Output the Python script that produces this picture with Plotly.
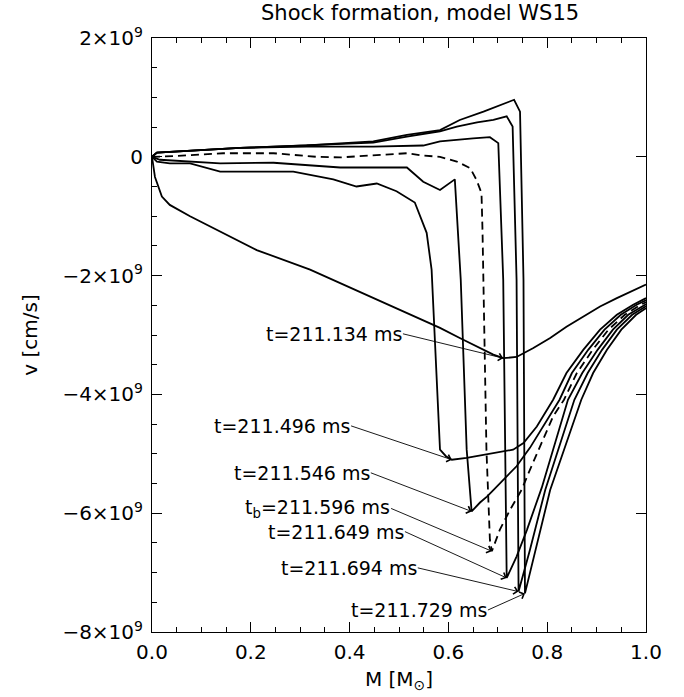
import plotly.graph_objects as go

# ---------------- data (M in solar masses, v in units of 1e9 cm/s) ----------------
M_1 = [0.0, 0.006, 0.02, 0.036, 0.077, 0.138, 0.212, 0.32, 0.45, 0.583, 0.623, 0.664, 0.691,
       0.711, 0.738, 0.772, 0.806, 0.839, 0.873, 0.907, 0.941, 0.974, 1.0]
V_1 = [0.0, -0.34, -0.67, -0.81, -1.0, -1.26, -1.57, -1.90, -2.39, -2.88, -3.05, -3.22, -3.33,
       -3.39, -3.37, -3.22, -3.05, -2.86, -2.69, -2.52, -2.38, -2.25, -2.15]

M_2 = [0.0, 0.01, 0.036, 0.077, 0.138, 0.286, 0.367, 0.414, 0.455, 0.495, 0.532, 0.556, 0.566,
       0.583, 0.595, 0.607, 0.637, 0.711, 0.731, 0.752, 0.779, 0.812, 0.839, 0.873, 0.907, 0.941,
       0.974, 1.0]
V_2 = [0.0, -0.08, -0.11, -0.11, -0.25, -0.25, -0.38, -0.50, -0.45, -0.58, -0.77, -1.28, -1.90,
       -4.93, -5.04, -5.10, -5.07, -4.96, -4.93, -4.82, -4.54, -4.09, -3.64, -3.25, -2.91, -2.66,
       -2.49, -2.38]

M_3 = [0.0, 0.016, 0.138, 0.246, 0.381, 0.516, 0.549, 0.583, 0.613, 0.625, 0.637, 0.647, 0.664,
       0.678, 0.691, 0.711, 0.738, 0.765, 0.792, 0.825, 0.850, 0.883, 0.916, 0.949, 0.981, 1.0]
V_3 = [0.0, -0.05, -0.11, -0.10, -0.18, -0.18, -0.42, -0.56, -0.38, -2.07, -4.93, -5.97, -5.82,
       -5.72, -5.61, -5.44, -5.21, -4.90, -4.54, -4.09, -3.64, -3.25, -2.91, -2.66, -2.49, -2.414]

M_4 = [0.0, 0.043, 0.144, 0.246, 0.333, 0.381, 0.516, 0.549, 0.583, 0.617, 0.644, 0.657, 0.667,
       0.669, 0.677, 0.684, 0.688, 0.704, 0.725, 0.748, 0.765, 0.789, 0.812, 0.834, 0.860, 0.892,
       0.924, 0.957, 0.989, 1.0]
V_4 = [0.0, 0.01, 0.06, 0.06, 0.0, -0.01, 0.06, 0.02, 0.0, -0.08, -0.19, -0.39, -0.61,
       -1.23, -4.93, -6.45, -6.64, -6.28, -5.94, -5.61, -5.27, -4.82, -4.37, -4.09, -3.64, -3.25,
       -2.91, -2.66, -2.49, -2.448]

M_5 = [0.0, 0.01, 0.178, 0.313, 0.448, 0.549, 0.583, 0.617, 0.65, 0.684, 0.701, 0.711, 0.718,
       0.738, 0.759, 0.789, 0.842, 0.871, 0.902, 0.933, 0.964, 1.0]
V_5 = [0.0, 0.07, 0.15, 0.17, 0.17, 0.19, 0.26, 0.29, 0.31, 0.33, 0.23, -2.07, -7.09,
       -6.73, -6.28, -5.57, -4.09, -3.64, -3.25, -2.91, -2.66, -2.482]

M_6 = [0.0, 0.01, 0.178, 0.313, 0.448, 0.516, 0.583, 0.617, 0.658, 0.691, 0.718, 0.73, 0.738,
       0.742, 0.765, 0.796, 0.855, 0.882, 0.911, 0.941, 0.972, 1.0]
V_6 = [0.0, 0.07, 0.15, 0.19, 0.24, 0.34, 0.43, 0.51, 0.58, 0.62, 0.68, 0.51, -2.07,
       -7.32, -6.62, -5.61, -4.09, -3.64, -3.25, -2.91, -2.66, -2.516]

M_7 = [0.0, 0.01, 0.178, 0.313, 0.448, 0.516, 0.583, 0.623, 0.671, 0.698, 0.733, 0.745, 0.752,
       0.755, 0.775, 0.806, 0.869, 0.893, 0.921, 0.950, 0.980, 1.0]
V_7 = [0.0, 0.07, 0.15, 0.19, 0.26, 0.37, 0.45, 0.62, 0.76, 0.85, 0.96, 0.76, -2.07,
       -7.35, -6.67, -5.61, -4.09, -3.64, -3.25, -2.91, -2.66, -2.55]

LABELS = ["t=211.134 ms", "t=211.496 ms", "t=211.546 ms", "t<sub>b</sub>=211.596 ms",
          "t=211.649 ms", "t=211.694 ms", "t=211.729 ms"]
DASHED = [False, False, False, True, False, False, False]

Y_TICKS = [2, 0, -2, -4, -6, -8]
Y_TICKTEXT = ["2×10<sup>9</sup>", "0", "−2×10<sup>9</sup>", "−4×10<sup>9</sup>",
              "−6×10<sup>9</sup>", "−8×10<sup>9</sup>"]
X_TICKS = [0.0, 0.2, 0.4, 0.6, 0.8, 1.0]

# label (text box right edge) positions in data coords
LABEL_POS_M = [0.508, 0.403, 0.443, 0.484, 0.512, 0.538, 0.680]
LABEL_POS_V = [-2.98, -4.53, -5.32, -5.92, -6.31, -6.92, -7.63]

SCALE = 1e9
curves = [(M_1, V_1), (M_2, V_2), (M_3, V_3), (M_4, V_4), (M_5, V_5), (M_6, V_6), (M_7, V_7)]

FONT = "DejaVu Sans"
FS = 20
fig = go.Figure()

for (m, v), dashed in zip(curves, DASHED):
    fig.add_trace(go.Scatter(
        x=m, y=[val * SCALE for val in v], mode="lines",
        line=dict(color="black", width=1.8, dash="8px,5px" if dashed else "solid"),
        showlegend=False, hoverinfo="skip"))

# invisible trace so that the mirrored top/right axes get drawn
fig.add_trace(go.Scatter(
    x=M_1, y=[val * SCALE for val in V_1], xaxis="x2", yaxis="y2", mode="lines",
    line=dict(color="rgba(0,0,0,0)", width=0), showlegend=False, hoverinfo="skip"))

annotations = []
for (m, v), lab, lm, lv in zip(curves, LABELS, LABEL_POS_M, LABEL_POS_V):
    i = v.index(min(v))
    annotations.append(dict(
        x=m[i], y=v[i] * SCALE, xref="x", yref="y",
        ax=lm, ay=lv * SCALE, axref="x", ayref="y",
        text=lab, showarrow=True, arrowhead=4, arrowsize=1.6, arrowwidth=0.9,
        arrowcolor="black", xanchor="right", yanchor="middle", borderpad=0,
        font=dict(family=FONT, size=19, color="black")))

W, H = 684, 697
ML, MR, MT, MB = 152, 38, 38, 65
w_plot = W - ML - MR
h_plot = H - MT - MB

annotations.append(dict(
    x=(420 - ML) / w_plot, y=1 + (MT - 13) / h_plot, xref="paper", yref="paper",
    text="Shock formation, model WS15", xanchor="center", yanchor="middle",
    showarrow=False, font=dict(family=FONT, size=21, color="black")))

axis_common = dict(
    showgrid=False, zeroline=False, showline=True, linecolor="black", linewidth=1,
    ticks="inside", ticklen=10, tickwidth=1, tickcolor="black",
    tickfont=dict(family=FONT, size=FS, color="black"),
)

fig.update_layout(
    width=W, height=H,
    margin=dict(l=ML, r=MR, t=MT, b=MB),
    paper_bgcolor="white", plot_bgcolor="white",
    xaxis=dict(range=[0, 1], tickvals=X_TICKS, tickformat=".1f", mirror=False,
               minor=dict(dtick=0.05, ticks="inside", ticklen=5, tickcolor="black"),
               title=dict(text="M [M<sub>⊙</sub>]", font=dict(family=FONT, size=FS, color="black"),
                          standoff=8),
               ticklabelstandoff=2, **axis_common),
    xaxis2=dict(range=[0, 1], tickvals=X_TICKS, overlaying="x", side="top", anchor="y",
                showticklabels=False,
                minor=dict(dtick=0.05, ticks="inside", ticklen=5, tickcolor="black"),
                **axis_common),
    yaxis=dict(range=[-8 * SCALE, 2 * SCALE], tickvals=[t * SCALE for t in Y_TICKS],
               ticktext=Y_TICKTEXT, mirror=False,
               minor=dict(dtick=0.5 * SCALE, ticks="inside", ticklen=5, tickcolor="black"),
               title=dict(text="v [cm/s]", font=dict(family=FONT, size=FS, color="black"),
                          standoff=19),
               ticklabelstandoff=4, **axis_common),
    yaxis2=dict(range=[-8 * SCALE, 2 * SCALE], tickvals=[t * SCALE for t in Y_TICKS],
                overlaying="y", side="right", anchor="x", showticklabels=False, **axis_common),
    annotations=annotations,
)

fig.write_html("out.html", config={"displayModeBar": False},
               post_script="document.body.style.margin='0';")
